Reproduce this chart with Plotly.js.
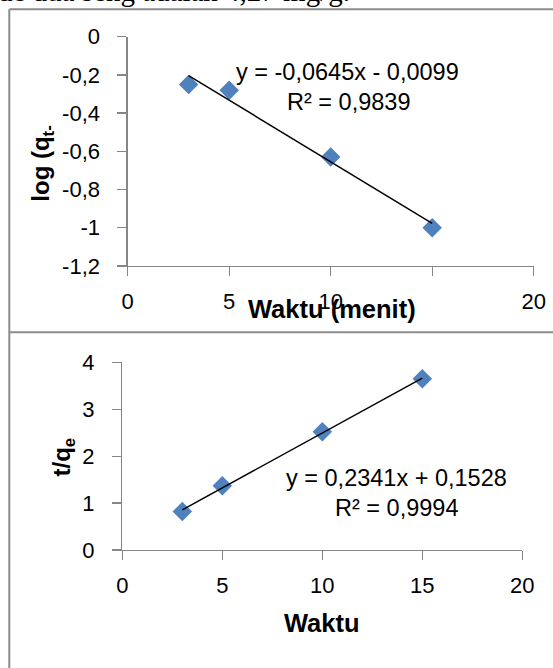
<!DOCTYPE html>
<html>
<head>
<meta charset="utf-8">
<script src="https://cdn.plot.ly/plotly-3.0.1.min.js"></script>
<style>
  html, body { margin: 0; padding: 0; background: #fff; }
  #chart { width: 553px; height: 668px; }
</style>
</head>
<body>
<div id="chart"></div>
<script>
// Contact time (minutes) for both kinetic plots
const timeMin = [3, 5, 10, 15];
// Pseudo-first-order: log(qe - qt)
const logQ = [-0.25, -0.28, -0.63, -1.0];
// Pseudo-second-order: t/qt
const tOverQ = [0.82, 1.37, 2.52, 3.65];

// Linear trendline coefficients [first-order, second-order]
const slopes = [-0.0645, 0.2341];
const intercepts = [-0.0099, 0.1528];
const rSquared = [0.9839, 0.9994];

// Tick values and labels (the 15 label of the upper plot is hidden under its title)
const xTicks = [0, 5, 10, 15, 20];
const xTickLabelsTop = ['0', '5', '10', '', '20'];
const xTickLabelsBottom = ['0', '5', '10', '15', '20'];
const yTicksTop = [0, -0.2, -0.4, -0.6, -0.8, -1, -1.2];
const yTicksBottom = [0, 1, 2, 3, 4];

const W = 553, H = 668;
const px = v => v / W;
const py = v => 1 - v / H;

const comma = v => String(v).replace('.', ',');
const fmt4 = v => Math.abs(v).toFixed(4).replace('.', ',');
function equation(i) {
  const s = (slopes[i] < 0 ? '-' : '') + fmt4(slopes[i]);
  const b = (intercepts[i] < 0 ? '- ' : '+ ') + fmt4(intercepts[i]);
  return 'y = ' + s + 'x ' + b;
}
const r2Text = i => 'R² = ' + rSquared[i].toFixed(4).replace('.', ',');

const xMin = Math.min(...timeMin), xMax = Math.max(...timeMin);
const fitX = [xMin, xMax];
const fitY = i => fitX.map(x => slopes[i] * x + intercepts[i]);

const FONT = 'Liberation Sans, Arial, sans-serif';
const AX = '#868686';
const BLUE = '#4F81BD';

const marker = { symbol: 'diamond', size: 15, color: BLUE, line: { width: 0 } };

const traces = [
  { x: timeMin, y: logQ, xaxis: 'x', yaxis: 'y', mode: 'markers', type: 'scatter',
    marker: marker, cliponaxis: false },
  { x: fitX, y: fitY(0), xaxis: 'x', yaxis: 'y', mode: 'lines', type: 'scatter',
    line: { color: '#000', width: 1.5 }, cliponaxis: false },
  { x: timeMin, y: tOverQ, xaxis: 'x2', yaxis: 'y2', mode: 'markers', type: 'scatter',
    marker: marker, cliponaxis: false },
  { x: fitX, y: fitY(1), xaxis: 'x2', yaxis: 'y2', mode: 'lines', type: 'scatter',
    line: { color: '#000', width: 1.5 }, cliponaxis: false }
];

function axisBase(extra) {
  return Object.assign({
    showline: true, linecolor: AX, linewidth: 1.3,
    ticks: 'outside', ticklen: 9, tickcolor: AX, tickwidth: 1.3,
    showgrid: false, zeroline: false, fixedrange: true,
    tickfont: { family: FONT, size: 22, color: '#000' },
    tickmode: 'array'
  }, extra);
}

const layout = {
  width: W, height: H,
  margin: { l: 0, r: 0, t: 0, b: 0, pad: 0 },
  paper_bgcolor: '#fff', plot_bgcolor: '#fff',
  showlegend: false,
  xaxis: axisBase({
    domain: [px(127.7), px(533.7)], anchor: 'y', range: [0, 20],
    tickvals: xTicks, ticktext: xTickLabelsTop, ticklabelstandoff: 6
  }),
  yaxis: axisBase({
    domain: [py(266), py(36.7)], anchor: 'x', range: [-1.2, 0],
    tickvals: yTicksTop, ticktext: yTicksTop.map(comma), ticklabelstandoff: 13
  }),
  xaxis2: axisBase({
    domain: [px(122.3), px(522.3)], anchor: 'y2', range: [0, 20],
    tickvals: xTicks, ticktext: xTickLabelsBottom, ticklabelstandoff: 6
  }),
  yaxis2: axisBase({
    domain: [py(550), py(362.3)], anchor: 'x2', range: [0, 4],
    tickvals: yTicksBottom, ticktext: yTicksBottom.map(comma), ticklabelstandoff: 13
  }),
  shapes: [
    { type: 'line', xref: 'paper', yref: 'paper', x0: px(9.3), x1: 1, y0: py(9.3), y1: py(9.3),
      line: { color: '#8c8c8c', width: 2 } },
    { type: 'line', xref: 'paper', yref: 'paper', x0: px(9.3), x1: 1, y0: py(332.3), y1: py(332.3),
      line: { color: '#8c8c8c', width: 2 } },
    { type: 'line', xref: 'paper', yref: 'paper', x0: px(9.3), x1: px(9.3), y0: 0, y1: py(9.3),
      line: { color: '#8c8c8c', width: 2 } }
  ],
  annotations: [
    // running text line above the figure box
    { xref: 'paper', yref: 'paper', x: px(-4), y: py(9), xanchor: 'left', yanchor: 'bottom',
      text: 'de dua seng adalah 4,27 mg/g.', showarrow: false,
      font: { family: 'Liberation Serif, Times New Roman, serif', size: 29, color: '#000' } },
    // trendline labels
    { xref: 'paper', yref: 'paper', x: px(347.5), y: py(71.7), xanchor: 'center', yanchor: 'middle',
      text: equation(0), showarrow: false, font: { family: FONT, size: 23.5, color: '#000' } },
    { xref: 'paper', yref: 'paper', x: px(348), y: py(101.7), xanchor: 'center', yanchor: 'middle',
      text: r2Text(0), showarrow: false, font: { family: FONT, size: 23.5, color: '#000' } },
    { xref: 'paper', yref: 'paper', x: px(396.7), y: py(478.3), xanchor: 'center', yanchor: 'middle',
      text: equation(1), showarrow: false, font: { family: FONT, size: 23.5, color: '#000' } },
    { xref: 'paper', yref: 'paper', x: px(396.7), y: py(508.3), xanchor: 'center', yanchor: 'middle',
      text: r2Text(1), showarrow: false, font: { family: FONT, size: 23.5, color: '#000' } },
    // axis titles
    { xref: 'paper', yref: 'paper', x: px(41.7), y: py(163), xanchor: 'center', yanchor: 'middle',
      textangle: -90, text: '<b>log (q<sub>t-</sub></b>', showarrow: false,
      font: { family: FONT, size: 24, color: '#000' } },
    { xref: 'paper', yref: 'paper', x: px(332), y: py(309), xanchor: 'center', yanchor: 'middle',
      text: '<b>Waktu (menit)</b>', showarrow: false,
      font: { family: FONT, size: 25.5, color: '#000' } },
    { xref: 'paper', yref: 'paper', x: px(63), y: py(457.5), xanchor: 'center', yanchor: 'middle',
      textangle: -90, text: '<b>t/q<sub>e</sub></b>', showarrow: false,
      font: { family: FONT, size: 24, color: '#000' } },
    { xref: 'paper', yref: 'paper', x: px(322), y: py(623), xanchor: 'center', yanchor: 'middle',
      text: '<b>Waktu</b>', showarrow: false,
      font: { family: FONT, size: 25.5, color: '#000' } }
  ]
};

Plotly.newPlot('chart', traces, layout, { staticPlot: true, displayModeBar: false });
</script>
</body>
</html>
